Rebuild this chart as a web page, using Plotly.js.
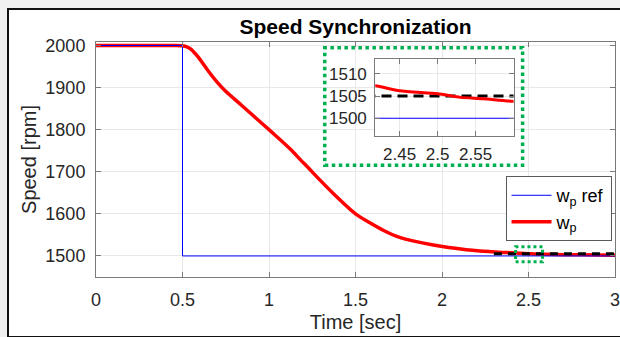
<!DOCTYPE html>
<html>
<head>
<meta charset="utf-8">
<script src="https://cdn.plot.ly/plotly-3.0.1.min.js"></script>
<style>
  html, body { margin: 0; padding: 0; background: #f0f0f0; width: 620px; height: 337px; overflow: hidden; }
  #frame { position: absolute; left: 7px; top: 8px; width: 620px; height: 326px; border: 2px solid #111; background: #fff; }
  #chart { position: absolute; left: 0; top: 0; width: 620px; height: 337px; }
</style>
</head>
<body>
<div id="frame"></div>
<div id="chart"></div>
<script>
// ---- data ----
const timeRef = [0, 0.5, 0.5, 3];
const speedRef = [2000, 2000, 1500, 1500];

const timeWp = [0, 0.25, 0.45, 0.5, 0.525, 0.55, 0.59, 0.648, 0.7, 0.745, 0.841, 0.937, 1.0, 1.065, 1.13, 1.178, 1.226, 1.274, 1.37, 1.5, 1.66, 1.755, 1.95, 2.14, 2.33, 2.418, 2.45, 2.5, 2.53, 2.56, 2.6, 2.8, 3.0];
const speedWp = [2000, 2000, 2000, 1999.5, 1997, 1991, 1973, 1940, 1913, 1893, 1858, 1823, 1800, 1776, 1751, 1730, 1710, 1689, 1649, 1600, 1561, 1544, 1526, 1515, 1509, 1507.3, 1506.2, 1505.5, 1504.7, 1504.4, 1503.8, 1502.6, 1501.8];

const timeTarget = [2.3, 3];
const speedTarget = [1505, 1505];

const xTicksMain = [0, 0.5, 1, 1.5, 2, 2.5, 3];
const yTicksMain = [1500, 1600, 1700, 1800, 1900, 2000];
const xTicksInset = [2.45, 2.5, 2.55];
const yTicksInset = [1500, 1505, 1510];

const names = ['w<sub>p</sub> ref', 'w<sub>p</sub>'];

// ---- styles ----
const FONT = 'Liberation Sans, Arial, Helvetica, sans-serif';
const RED = '#ff0000', BLUE = '#0000ff', GREEN = '#00b050';

const traces = [
  // main
  {x: timeWp, y: speedWp, name: names[1], mode: 'lines', line: {color: RED, width: 3.5, shape: 'spline', smoothing: 0.6}, legendrank: 2, xaxis: 'x', yaxis: 'y'},
  {x: timeRef, y: speedRef, name: names[0], mode: 'lines', line: {color: BLUE, width: 1}, legendrank: 1, xaxis: 'x', yaxis: 'y'},
  {x: timeTarget, y: speedTarget, mode: 'lines', line: {color: '#000', width: 3, dash: '8px,6px'}, showlegend: false, xaxis: 'x', yaxis: 'y'},
  // inset
  {x: timeRef, y: speedRef, mode: 'lines', line: {color: BLUE, width: 1}, showlegend: false, xaxis: 'x2', yaxis: 'y2'},
  {x: timeTarget, y: speedTarget, mode: 'lines', line: {color: '#000', width: 3, dash: '10px,6px'}, showlegend: false, xaxis: 'x2', yaxis: 'y2'},
  {x: timeWp, y: speedWp, mode: 'lines', line: {color: RED, width: 3, shape: 'spline', smoothing: 0.6}, showlegend: false, xaxis: 'x2', yaxis: 'y2'}
];

const axCommon = {
  showline: true, linecolor: '#7a7a7a', linewidth: 1, mirror: 'ticks',
  ticks: 'inside', ticklen: 5, tickcolor: '#7a7a7a',
  showgrid: true, gridcolor: '#e8e8e8', gridwidth: 1, zeroline: false,
  ticklabeloverflow: 'allow',
  tickfont: {family: FONT, size: 18, color: '#262626'}
};

const layout = {
  width: 620, height: 337,
  margin: {l: 96, r: 4.5, t: 41.5, b: 60},
  paper_bgcolor: 'rgba(0,0,0,0)',
  plot_bgcolor: '#ffffff',
  showlegend: true,
  title: {text: 'Speed Synchronization', font: {family: FONT, size: 21, color: '#000', weight: 'bold'},
          x: 0.5735, xanchor: 'center', y: 1 - 27/337, yanchor: 'middle'},
  xaxis: Object.assign({}, axCommon, {
    domain: [0, 1], range: [0, 3], tickvals: xTicksMain, ticktext: xTicksMain.map(String),
    ticklabelstandoff: 6,
    title: {text: 'Time [sec]', font: {family: FONT, size: 20, color: '#262626'}, standoff: 6}
  }),
  yaxis: Object.assign({}, axCommon, {
    domain: [0, 1], range: [1450, 2008.3], tickvals: yTicksMain, ticktext: yTicksMain.map(String),
    ticklabelstandoff: 6,
    title: {text: 'Speed [rpm]', font: {family: FONT, size: 20, color: '#262626'}, standoff: 3}
  }),
  xaxis2: Object.assign({}, axCommon, {
    domain: [0.538, 0.8046], range: [2.418, 2.6], anchor: 'y2',
    tickvals: xTicksInset, ticktext: xTicksInset.map(String), ticklabelstandoff: 3,
    tickfont: {family: FONT, size: 17, color: '#262626'}
  }),
  yaxis2: Object.assign({}, axCommon, {
    domain: [0.600, 0.9287], range: [1496, 1513.4], anchor: 'x2',
    tickvals: yTicksInset, ticktext: yTicksInset.map(String), ticklabelstandoff: 4,
    tickfont: {family: FONT, size: 17, color: '#262626'}
  }),
  legend: {
    x: 0.9933, xanchor: 'right', y: 0.1529, yanchor: 'bottom',
    bgcolor: '#ffffff', bordercolor: '#5a5a5a', borderwidth: 1,
    font: {family: FONT, size: 18, color: '#000'},
    tracegroupgap: 0, itemwidth: 40
  },
  shapes: [
    {type: 'rect', xref: 'paper', yref: 'paper', x0: 0.4408, x1: 0.822, y0: 0.4756, y1: 0.9754,
     line: {color: GREEN, width: 3.5, dash: 'dot'}, fillcolor: 'rgba(0,0,0,0)', layer: 'above'},
    {type: 'rect', xref: 'paper', yref: 'paper', x0: 0.8085, x1: 0.8604, y0: 0.065, y1: 0.1287,
     line: {color: GREEN, width: 3, dash: 'dot'}, fillcolor: 'rgba(0,0,0,0)', layer: 'above'}
  ]
};

Plotly.newPlot('chart', traces, layout, {displayModeBar: false, responsive: false});
</script>
</body>
</html>
